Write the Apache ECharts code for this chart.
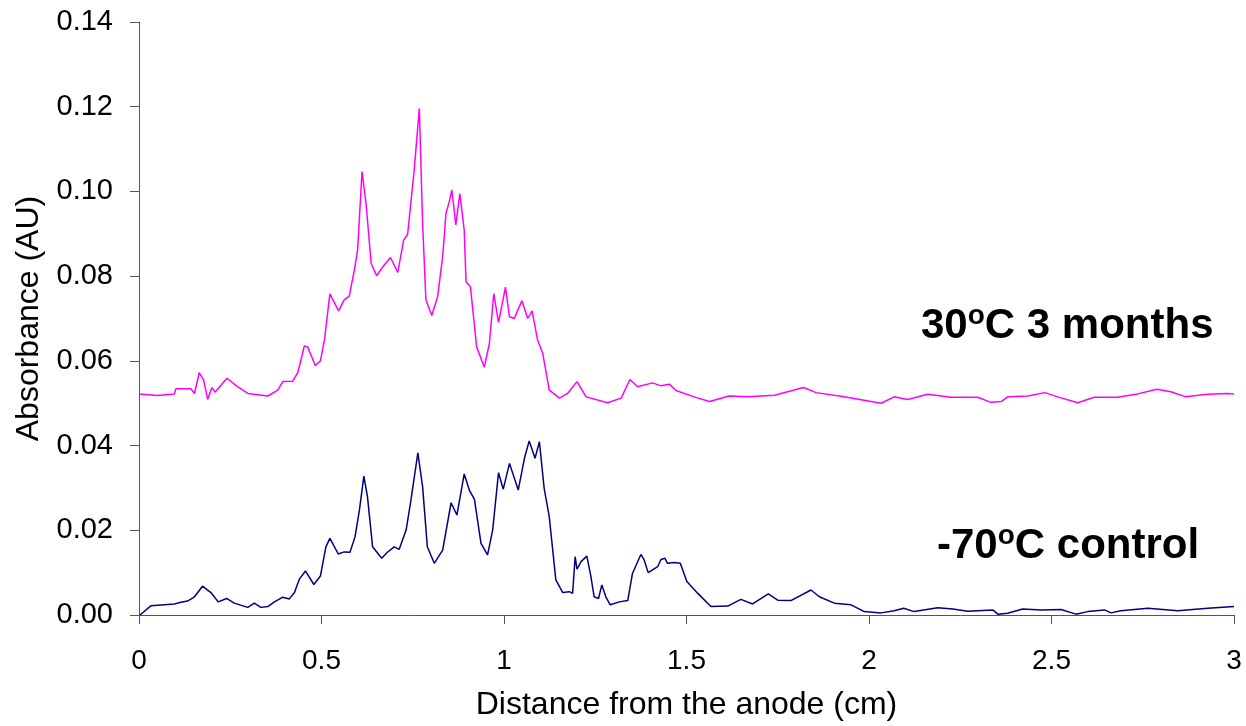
<!DOCTYPE html>
<html>
<head>
<meta charset="utf-8">
<script src="https://cdn.jsdelivr.net/npm/echarts@6/dist/echarts.min.js"></script>
<style>
  html, body { margin: 0; padding: 0; background: #fff; }
  #chart { width: 1246px; height: 726px; }
</style>
</head>
<body>
<div id="chart"></div>
<script>
// 30oC 3 months trace (magenta)
const warmX = [0, 0.005, 0.05, 0.097, 0.101, 0.142, 0.152, 0.165, 0.177, 0.188, 0.2, 0.208, 0.241, 0.27, 0.298, 0.353, 0.38, 0.394, 0.421, 0.435,
  0.453, 0.462, 0.483, 0.497, 0.508, 0.523, 0.547, 0.562, 0.576, 0.59, 0.599, 0.611, 0.622, 0.636, 0.651, 0.668, 0.689, 0.709, 0.725, 0.736,
  0.754, 0.768, 0.777, 0.786, 0.802, 0.818, 0.832, 0.841, 0.85, 0.857, 0.862, 0.868, 0.879, 0.891, 0.896, 0.908, 0.925, 0.946, 0.96, 0.972,
  0.985, 1.004, 1.015, 1.028, 1.037, 1.049, 1.065, 1.077, 1.092, 1.106, 1.124, 1.152, 1.174, 1.2, 1.225, 1.284, 1.321, 1.345, 1.366, 1.407,
  1.43, 1.453, 1.471, 1.521, 1.563, 1.617, 1.668, 1.741, 1.821, 1.855, 1.932, 2.033, 2.069, 2.106, 2.161, 2.225, 2.298, 2.334, 2.362, 2.38,
  2.435, 2.482, 2.517, 2.572, 2.617, 2.681, 2.736, 2.789, 2.827, 2.868, 2.928, 2.982, 3.0];
const warmY = [0.0522, 0.0522, 0.0518, 0.0522, 0.0534, 0.0534, 0.0523, 0.0572, 0.0555, 0.0509, 0.0537, 0.0526, 0.0559, 0.0539, 0.0523, 0.0517, 0.0531, 0.0551, 0.0552, 0.0572,
  0.0635, 0.0633, 0.0589, 0.06, 0.0649, 0.0758, 0.0718, 0.0744, 0.0753, 0.0814, 0.0862, 0.1047, 0.0972, 0.083, 0.0801, 0.0822, 0.0844, 0.0809, 0.0885, 0.0899,
  0.1051, 0.1196, 0.0925, 0.0744, 0.0707, 0.0751, 0.0846, 0.0948, 0.0976, 0.1003, 0.0968, 0.0921, 0.0995, 0.0909, 0.0787, 0.0775, 0.0633, 0.0585, 0.0641, 0.0759,
  0.0691, 0.0774, 0.0704, 0.07, 0.0718, 0.0742, 0.07, 0.0718, 0.0649, 0.0618, 0.0531, 0.0512, 0.0523, 0.0551, 0.0515, 0.0501, 0.0512, 0.0556, 0.0539, 0.0548,
  0.0541, 0.0545, 0.053, 0.0515, 0.0504, 0.0517, 0.0515, 0.0519, 0.0537, 0.0525, 0.0515, 0.05, 0.0515, 0.0509, 0.0521, 0.0514, 0.0514, 0.0502, 0.0504, 0.0515,
  0.0517, 0.0525, 0.0515, 0.0501, 0.0514, 0.0514, 0.0522, 0.0533, 0.0527, 0.0515, 0.0521, 0.0523, 0.0522];

// -70oC control trace (navy)
const coldX = [0.003, 0.008, 0.033, 0.097, 0.115, 0.133, 0.152, 0.174, 0.197, 0.217, 0.24, 0.261, 0.298, 0.316, 0.334, 0.353, 0.371, 0.394, 0.412, 0.426,
  0.439, 0.456, 0.479, 0.497, 0.512, 0.523, 0.546, 0.562, 0.578, 0.592, 0.604, 0.616, 0.626, 0.64, 0.665, 0.679, 0.699, 0.713, 0.732, 0.745,
  0.764, 0.777, 0.79, 0.809, 0.832, 0.855, 0.871, 0.891, 0.905, 0.919, 0.937, 0.955, 0.969, 0.985, 0.998, 1.015, 1.039, 1.056, 1.069, 1.085,
  1.097, 1.11, 1.124, 1.142, 1.161, 1.179, 1.188, 1.195, 1.2, 1.211, 1.227, 1.238, 1.247, 1.259, 1.268, 1.279, 1.291, 1.316, 1.339, 1.352,
  1.375, 1.384, 1.395, 1.421, 1.43, 1.441, 1.448, 1.467, 1.483, 1.501, 1.531, 1.567, 1.613, 1.649, 1.681, 1.724, 1.75, 1.786, 1.841, 1.864,
  1.905, 1.951, 1.987, 2.033, 2.069, 2.095, 2.124, 2.188, 2.23, 2.27, 2.339, 2.353, 2.38, 2.421, 2.471, 2.526, 2.567, 2.599, 2.645, 2.663,
  2.69, 2.764, 2.846, 2.928, 3.0];
const coldY = [0.0, 0.0004, 0.0022, 0.0026, 0.003, 0.0033, 0.0043, 0.0068, 0.0053, 0.0031, 0.0039, 0.0028, 0.0018, 0.0028, 0.0018, 0.002, 0.0031, 0.0042, 0.0038, 0.0053,
  0.0084, 0.0104, 0.0072, 0.0092, 0.0161, 0.0181, 0.0144, 0.0149, 0.0148, 0.0185, 0.0248, 0.0328, 0.0279, 0.0161, 0.0134, 0.0147, 0.0161, 0.0155, 0.0201, 0.0271,
  0.0383, 0.0303, 0.0161, 0.0122, 0.0153, 0.0265, 0.0236, 0.0333, 0.0295, 0.0273, 0.0169, 0.0142, 0.0201, 0.0336, 0.0297, 0.0358, 0.0295, 0.037, 0.0411, 0.037,
  0.0409, 0.0299, 0.0232, 0.0083, 0.0053, 0.0055, 0.0051, 0.0138, 0.0108, 0.0126, 0.0139, 0.0091, 0.0043, 0.0039, 0.0071, 0.0043, 0.0024, 0.0031, 0.0034, 0.0098,
  0.0143, 0.013, 0.01, 0.0114, 0.0131, 0.0134, 0.0122, 0.0124, 0.0122, 0.0079, 0.0051, 0.002, 0.0021, 0.0037, 0.0026, 0.005, 0.0035, 0.0034, 0.0059, 0.0043,
  0.0028, 0.0024, 0.0008, 0.0005, 0.001, 0.0016, 0.0008, 0.0017, 0.0014, 0.0009, 0.0012, 0.0002, 0.0004, 0.0014, 0.0012, 0.0013, 0.0002, 0.0008, 0.0012, 0.0005,
  0.001, 0.0016, 0.001, 0.0016, 0.002];

const pairs = (xs, ys) => xs.map((x, i) => [x, ys[i]]);

let myChart = echarts.init(document.getElementById('chart'), null, { renderer: 'canvas' });

const font = 'Liberation Sans';

// 注释文字的富文本样式（上标 o）
const noteRich = {
  b: { fontFamily: font, fontSize: 42, fontWeight: 'bold', fill: '#000', lineHeight: 48 },
  s: { fontFamily: font, fontSize: 28, fontWeight: 'bold', fill: '#000', lineHeight: 48, padding: [0, 0, 20, 0] }
};

let option = {
  animation: false,
  backgroundColor: '#fff',
  grid: { left: 139, right: 12, top: 22, bottom: 111, outerBoundsMode: 'none' },
  xAxis: {
    type: 'value',
    min: 0, max: 3, interval: 0.5,
    name: 'Distance from the anode (cm)',
    nameLocation: 'middle',
    nameGap: 74,
    nameTextStyle: { fontFamily: font, fontSize: 32, color: '#000' },
    axisLine: { show: true, lineStyle: { color: '#555', width: 1 } },
    axisTick: { show: true, length: 9, lineStyle: { color: '#555' } },
    axisLabel: { fontFamily: font, fontSize: 28, color: '#000', margin: 32 },
    splitLine: { show: false }
  },
  yAxis: {
    type: 'value',
    min: 0, max: 0.14, interval: 0.02,
    name: 'Absorbance (AU)',
    nameLocation: 'middle',
    nameGap: 91,
    nameTextStyle: { fontFamily: font, fontSize: 32, color: '#000' },
    axisLine: { show: true, lineStyle: { color: '#555', width: 1 } },
    axisTick: { show: true, length: 9, lineStyle: { color: '#555' } },
    axisLabel: { fontFamily: font, fontSize: 29, color: '#000', margin: 26,
      formatter: v => v.toFixed(2) },
    splitLine: { show: false }
  },
  series: [
    {
      name: '30oC 3 months',
      type: 'line',
      data: pairs(warmX, warmY),
      showSymbol: false,
      lineStyle: { color: '#ff00ff', width: 1.5 },
      itemStyle: { color: '#ff00ff' }
    },
    {
      name: '-70oC control',
      type: 'line',
      data: pairs(coldX, coldY),
      showSymbol: false,
      lineStyle: { color: '#000080', width: 1.5 },
      itemStyle: { color: '#000080' }
    }
  ],
  graphic: [
    {
      type: 'text', x: 921, y: 326,
      style: { text: '{b|30}{s|o}{b|C 3 months}', align: 'left', verticalAlign: 'middle', rich: noteRich }
    },
    {
      type: 'text', x: 937, y: 546,
      style: { text: '{b|-70}{s|o}{b|C control}', align: 'left', verticalAlign: 'middle', rich: noteRich }
    }
  ]
};

myChart.setOption(option);
window.addEventListener('resize', function () {
  myChart.resize();
});
</script>
</body>
</html>
